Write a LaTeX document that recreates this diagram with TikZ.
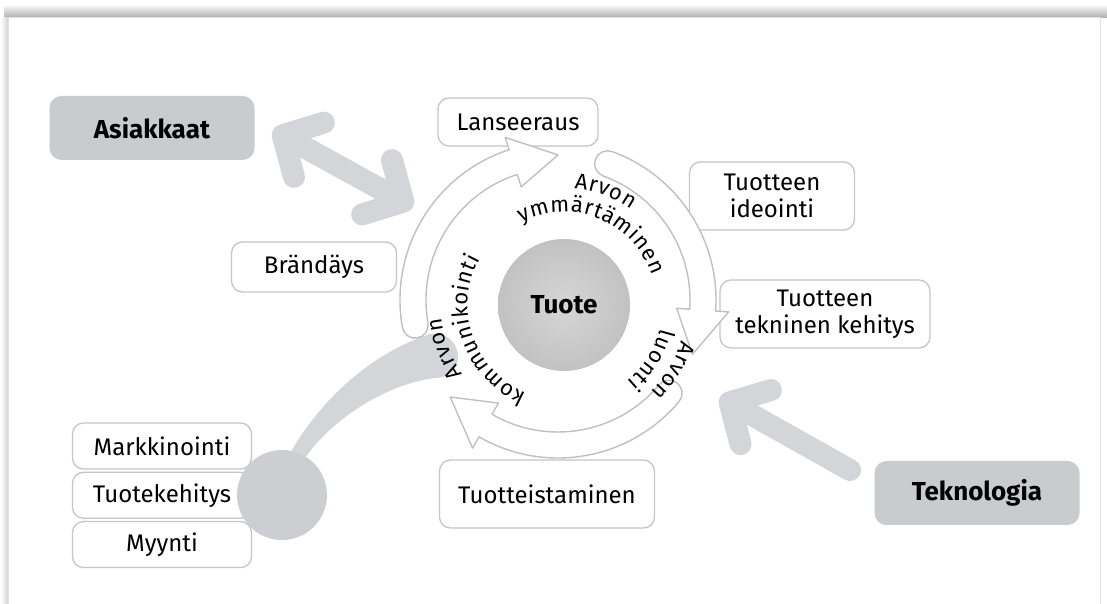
\documentclass[tikz,border=0pt]{standalone}
\usepackage{fontspec}
\setmainfont{Fira Sans}
\usetikzlibrary{arrows.meta,decorations.text,positioning}
\definecolor{boxline}{HTML}{C6C6C6}
\definecolor{darkbox}{HTML}{C9CBCF}
\definecolor{arrowgray}{HTML}{D4D5D8}
\definecolor{ringline}{HTML}{C0C0C0}
\definecolor{hubgray}{HTML}{CDCED1}
\newcommand\labelfont{\fontsize{24}{27}\selectfont}
\newcommand\headfont{\fontsize{26}{28}\selectfont\bfseries}
\newcommand\curvefont{\fontsize{22}{22}\selectfont}
% one white arrow of the ring: tail angle, head base angle, tip angle
\newcommand\ringarrow[3]{%
  \draw[ringarrow] ([shift={(ringc)}]#1:158) arc[start angle=#1, end angle=#2, radius=158]
    -- ([shift={(ringc)}]#2:171) -- ([shift={(ringc)}]#3:145) -- ([shift={(ringc)}]#2:119)
    -- ([shift={(ringc)}]#2:132) arc[start angle=#2, end angle=#1, radius=132]
    arc[start angle=#1+180, end angle=#1, radius=13] -- cycle;}
% text along an arc round the hub: text, radius, start angle, end angle
\newcommand\arctext[4]{%
  \path[decorate, decoration={text effects along path, text={#1}, text align=center,
      text effects/.cd, text along path, characters={font=\curvefont, inner sep=0pt},
      character widths={font=\curvefont, inner xsep=0.4pt}}]
    ([shift={(tuote.center)}]#3:#2) arc[start angle=#3, end angle=#4, radius=#2];}
\tikzset{
  whitebox/.style={draw=boxline, line width=1.3pt, fill=white, rounded corners=11pt,
    align=center, font=\labelfont, inner sep=0pt},
  graybox/.style={fill=darkbox, rounded corners=12pt, font=\headfont,
    inner sep=0pt, minimum width=205pt, minimum height=64pt},
  bigarrow/.style={draw=arrowgray, line width=22pt, line cap=round},
  ringarrow/.style={draw=ringline, line width=1.4pt, fill=white, line join=round},
  fattip/.tip={Straight Barb[length=30pt 0 0, width=62pt 0 0, round]}
}
\begin{document}
\begin{tikzpicture}[x=1pt,y=1pt]
  \useasboundingbox (0,0) rectangle (1107,604);
  % frame
  \fill[white] (0,0) rectangle (1107,604);
  \shade[top color=white, bottom color=black!32] (4,586) rectangle (1107,600);
  \shade[left color=white, right color=black!18] (1,0) rectangle (8,586);
  \draw[black!12, line width=1pt] (8,0) -- (8,586) -- (1100,586) -- (1100,0);

  \coordinate (ringc) at (558,304);
  \node[circle, minimum size=132pt, inner sep=0pt, inner color=black!16, outer color=black!24,
    font=\headfont] (tuote) at (564,299) {Tuote};

  % outer boxes
  \node[graybox] (asiakkaat) at (152,476) {Asiakkaat};
  \node[graybox] (teknologia) at (977,111) {Teknologia};
  \node[whitebox, minimum width=160pt, minimum height=48pt] (lanseeraus) at (518,482) {Lanseeraus};
  \node[whitebox, minimum width=165pt, minimum height=68pt] (ideointi) at (772,408) {Tuotteen\\ideointi};
  \node[whitebox, minimum width=210pt, minimum height=68pt] (tekninen) at (825,290) {Tuotteen\\tekninen kehitys};
  \node[whitebox, minimum width=165pt, minimum height=50pt] (brandays) at (314,337) {Brändäys};
  \node[whitebox, minimum width=215pt, minimum height=68pt] (tuotteistaminen) at (547,110) {Tuotteistaminen};
  \node[whitebox, minimum width=179pt, minimum height=46pt] (markkinointi) at (162,158) {Markkinointi};
  \node[whitebox, minimum width=179pt, minimum height=46pt, below=2pt of markkinointi] (tuotekehitys) {Tuotekehitys};
  \node[whitebox, minimum width=179pt, minimum height=46pt, below=2pt of tuotekehitys] (myynti) {Myynti};
  \node[circle, fill=hubgray, minimum size=90pt] (hub) at (282,109) {};

  % gray arrows
  \coordinate (asA) at (273,474);
  \coordinate (asB) at (413,397);
  \draw[bigarrow, fattip-fattip] (asA) -- (asB);
  \coordinate (tekA) at (850,134);
  \coordinate (tekB) at (720,207);
  \draw[bigarrow, -fattip] (tekA) -- (tekB);
  \fill[arrowgray] (hub.78) .. controls (322,205) and (370,250) .. (430,270)
    .. controls (462,275) and (470,228) .. (436,226)
    .. controls (395,222) and (338,192) .. (hub.58) -- cycle;

  % ring of three arrows
  \ringarrow{190}{108}{90}
  \ringarrow{70}{-4}{-22}
  \ringarrow{-40}{-120}{-138}

  % texts round the hub
  \arctext{Arvon}{117}{110}{30}
  \arctext{ymmärtäminen}{93}{155}{-19}
  \arctext{Arvon}{123}{10}{-72}
  \arctext{luonti}{99}{10}{-74}
  \arctext{Arvon}{123}{240}{160}
  \arctext{kommunikointi}{96}{265}{133}
\end{tikzpicture}
\end{document}
